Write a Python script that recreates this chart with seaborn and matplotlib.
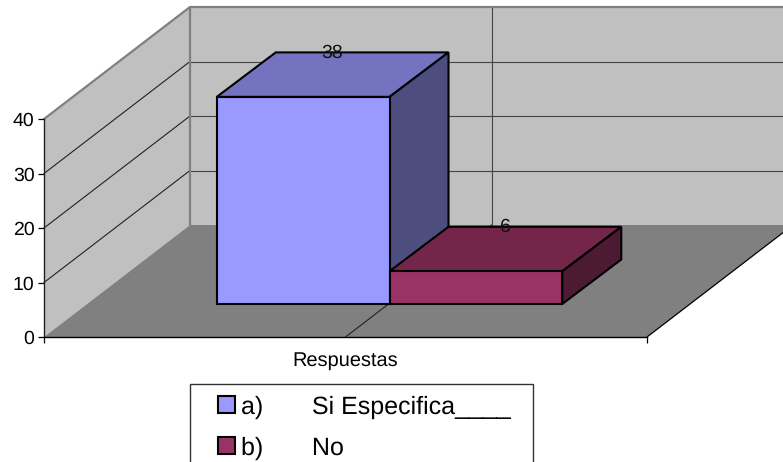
import matplotlib
matplotlib.use('Agg')
import matplotlib.pyplot as plt
from matplotlib.patches import Polygon, Rectangle
import seaborn as sns
import pandas as pd

# chart values
series = ['a)       Si Especifica____', 'b)       No']
values = [38, 6]
category = ['Respuestas', 'Respuestas']
y_ticks = [0, 10, 20, 30, 40]

# colours: front, top, side of each bar
front_colors = ['#9999FF', '#993366']
top_colors = ['#7373BF', '#732649']
side_colors = ['#4D4D80', '#4D1A33']
wall_color = '#C0C0C0'
floor_color = '#808080'

# layout in pixels of the 783x462 picture
W, H = 783, 462
left, right, bottom, top = 44, 647, 337, 119
depth_x, depth_y = 146, 112      # offset of the back wall
bar_shift_x, bar_shift_y = 44, 33   # bars stand inside the floor
bar_dx, bar_dy = 59, 44.5        # depth of one bar


def axes_box(x0, x1, y_top, y_bottom):
    return [x0 / W, 1 - y_bottom / H, (x1 - x0) / W, (y_bottom - y_top) / H]


sns.set_style('white')
plt.rcParams['font.family'] = ['Liberation Sans', 'DejaVu Sans']
plt.rcParams['text.hinting'] = 'none'

fig = plt.figure(figsize=(W / 100, H / 100), dpi=100)

# walls and floor, drawn in pixel coordinates
bg = fig.add_axes([0, 0, 1, 1], zorder=1)
bg.set_xlim(0, W)
bg.set_ylim(H, 0)
bg.axis('off')

bl = (left, bottom)
tl = (left, top)
br = (right, bottom)
back_bl = (left + depth_x, bottom - depth_y)
back_tl = (left + depth_x, top - depth_y)
back_br = (right + depth_x, bottom - depth_y)
back_tr = (right + depth_x, top - depth_y)

bg.add_patch(Polygon([bl, tl, back_tl, back_bl], fc=wall_color, ec='none'))
bg.add_patch(Polygon([back_bl, back_tl, back_tr, back_br], fc=wall_color, ec='none'))
bg.add_patch(Polygon([bl, back_bl, back_br, br], fc=floor_color, ec='none'))

# gridlines on both walls
px_per_unit = (bottom - top) / max(y_ticks)
for v in y_ticks[1:-1]:
    y = bottom - v * px_per_unit
    bg.plot([left, left + depth_x], [y, y - depth_y], color='#222222', lw=0.8)
    bg.plot([left + depth_x, right + depth_x], [y - depth_y, y - depth_y], color='#444444', lw=0.8)

# divider of the single category
mid = (left + right) / 2
bg.plot([mid, mid + depth_x], [bottom, bottom - depth_y], color='#222222', lw=0.8)
bg.plot([mid + depth_x, mid + depth_x], [bottom - depth_y, top - depth_y], color='#444444', lw=0.8)

# wall edges
bg.plot([left, left + depth_x, left + depth_x], [top, top - depth_y, bottom - depth_y], color='#808080', lw=1.6)
bg.plot([left + depth_x, right + depth_x], [top - depth_y, top - depth_y], color='#808080', lw=1.6)
bg.plot([right, right + depth_x], [bottom, bottom - depth_y], color='black', lw=0.9)

# legend box, its lower edge runs off the picture
bg.add_patch(Rectangle((190, 384), 343, 100, fc='white', ec='#333333', lw=1.0, zorder=3))

# front plane: axis lines, ticks and labels
ax = fig.add_axes(axes_box(left, right, top, bottom), zorder=2)
ax.patch.set_visible(False)
ax.set_xlim(0, 1)
ax.set_ylim(min(y_ticks), max(y_ticks))
ax.set_yticks(y_ticks)
ax.set_xticks([0, 1])
ax.set_xticklabels([])
ax.tick_params(axis='both', length=4.3, width=0.9, color='black', left=True, bottom=True,
               labelsize=14, labelcolor='black', pad=2.5)
sns.despine(ax=ax)
ax.spines['left'].set_color('#222222')
ax.spines['left'].set_linewidth(1.0)
ax.spines['bottom'].set_color('black')
ax.spines['bottom'].set_linewidth(1.0)
ax.set_xlabel('Respuestas', fontsize=14.4, color='black', labelpad=3.5)

# bars: seaborn draws the front faces, shifted into the floor
ax_bar = fig.add_axes(axes_box(left + bar_shift_x, right + bar_shift_x,
                               top - bar_shift_y, bottom - bar_shift_y), zorder=4)
ax_bar.patch.set_visible(False)
data = pd.DataFrame({'Categoria': category, 'Serie': series, 'Valor': values})
sns.barplot(data=data, x='Categoria', y='Valor', hue='Serie', hue_order=series,
            palette=front_colors, width=0.573, gap=0, saturation=1,
            edgecolor='black', linewidth=1.5, ax=ax_bar)
ax_bar.set_xlim(-0.5, 0.5)
ax_bar.set_ylim(min(y_ticks), max(y_ticks))

# top and side faces follow from each bar's own rectangle
fig.canvas.draw()
to_px = ax_bar.transData + bg.transData.inverted()
for rect, val, c_top, c_side in zip(ax_bar.patches[:2], values, top_colors, side_colors):
    rect.set_clip_on(False)
    (x0, y0), (x1, y1) = to_px.transform([(rect.get_x(), 0),
                                          (rect.get_x() + rect.get_width(), val)])
    bg.add_patch(Polygon([(x0, y1), (x1, y1), (x1 + bar_dx, y1 - bar_dy), (x0 + bar_dx, y1 - bar_dy)],
                         fc=c_top, ec='black', lw=1.5, zorder=5))
    bg.add_patch(Polygon([(x1, y1), (x1 + bar_dx, y1 - bar_dy), (x1 + bar_dx, y0 - bar_dy), (x1, y0)],
                         fc=c_side, ec='black', lw=1.5, zorder=5))
    ax_bar.annotate(str(val), (rect.get_x() + rect.get_width() / 2, val),
                    xytext=(bar_dx / 2 * 0.72 - 0.7, bar_dy * 0.72), textcoords='offset points',
                    ha='center', va='center', fontsize=14, color='#111111',
                    annotation_clip=False, zorder=6)

ax_bar.axis('off')

# legend entries sit inside the box drawn above
sns.move_legend(ax_bar, 'upper left', bbox_to_anchor=(218 / W, 1 - 395.5 / H),
                bbox_transform=fig.transFigure, title=None, frameon=False,
                fontsize=18, ncol=1, borderaxespad=0, borderpad=0, labelcolor='black',
                labelspacing=0.7, handlelength=0.68, handleheight=0.68,
                handletextpad=0.25)

fig.savefig('out.png', dpi=100)
